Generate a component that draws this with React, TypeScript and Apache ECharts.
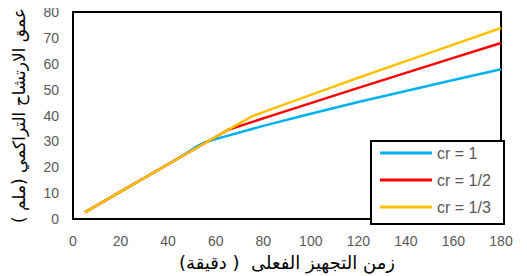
import React, { useEffect, useRef } from "react";
import * as echarts from "echarts";

const seriesNames = ["cr = 1", "cr = 1/2", "cr = 1/3"];
const colors = ["#00B0F0", "#FF0000", "#FFC000"];

const blueData: [number, number][] = [
  [5, 2.6], [20, 10.6], [40, 21.2], [48, 25.6], [52, 28.0], [55, 29.5], [60, 30.9],
  [80, 36.0], [100, 40.7], [120, 45.2], [140, 49.5], [160, 53.7], [180, 57.9],
];
const redData: [number, number][] = [
  [5, 2.6], [20, 10.6], [40, 21.2], [55, 29.1], [65, 34.4], [70, 35.9],
  [80, 38.9], [100, 44.8], [120, 50.7], [140, 56.5], [160, 62.3], [180, 68.0],
];
const yellowData: [number, number][] = [
  [5, 2.6], [20, 10.6], [40, 21.2], [55, 29.1], [65, 34.4], [75, 39.6], [80, 41.3],
  [100, 48.0], [120, 54.6], [140, 61.0], [160, 67.4], [180, 73.8],
];

const xTitle = "زمن التجهيز الفعلى  ( دقيقة)";
const yTitle = "عمق الارتشاح التراكمي (ملم )";

export default function App() {
  const ref = useRef<HTMLDivElement>(null);
  useEffect(() => {
    if (!ref.current) return;
    const chart = echarts.init(ref.current, undefined, { renderer: "svg" });
    const datas = [blueData, redData, yellowData];
    chart.setOption({
      animation: false,
      backgroundColor: "#fff",
      grid: {
        left: 73, top: 12, width: 428, height: 210,
        show: true, borderColor: "#000", borderWidth: 2, backgroundColor: "transparent",
      },
      xAxis: {
        type: "value", min: 0, max: 180, interval: 20,
        axisLine: { show: false }, axisTick: { show: false }, splitLine: { show: false },
        axisLabel: { color: "#595959", fontSize: 14, fontFamily: "Liberation Sans", margin: 15 },
        name: xTitle, nameLocation: "middle", nameGap: 32,
        nameTextStyle: { color: "#000", fontSize: 18, fontFamily: "DejaVu Sans" },
      },
      yAxis: {
        type: "value", min: 0, max: 80, interval: 10,
        axisLine: { show: false }, axisTick: { show: false }, splitLine: { show: false },
        axisLabel: { color: "#595959", fontSize: 14, fontFamily: "Liberation Sans", margin: 14 },
        name: yTitle, nameLocation: "middle", nameGap: 46, nameRotate: 90,
        nameTextStyle: { color: "#000", fontSize: 17, fontFamily: "DejaVu Sans" },
      },
      graphic: [
        {
          type: "rect", left: 370, top: 140, z: 3,
          shape: { width: 133, height: 83 },
          style: { fill: "#fff", stroke: "#000", lineWidth: 2 },
        },
      ],
      legend: {
        orient: "vertical", left: 378, top: 145, z: 10,
        icon: "rect",
        itemWidth: 52, itemHeight: 3, itemGap: 11, padding: [0, 2],
        textStyle: { color: "#595959", fontSize: 16, fontFamily: "Liberation Sans" },
        data: seriesNames,
      },
      series: datas.map((d, i) => ({
        type: "line", name: seriesNames[i], data: d, symbol: "none",
        lineStyle: { color: colors[i], width: 2.5 }, itemStyle: { color: colors[i] },
        z: 2 + i,
      })),
    });
    return () => chart.dispose();
  }, []);
  return <div ref={ref} style={{ width: 527, height: 276, marginLeft: -8, marginTop: -8 }} />;
}
